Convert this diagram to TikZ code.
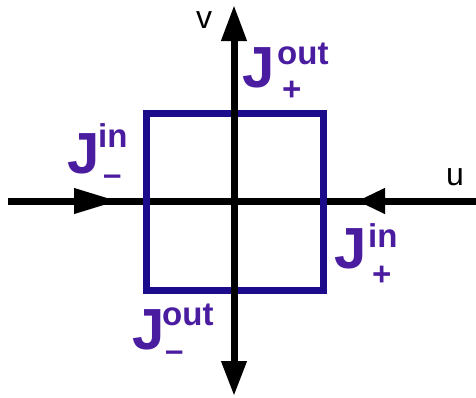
\documentclass[tikz,border=0pt]{standalone}
\usepackage{fontspec}
\setmainfont{Liberation Sans}
\usetikzlibrary{arrows.meta}

\definecolor{boxblue}{RGB}{28,12,140}
\definecolor{fluxpurple}{RGB}{74,28,160}

\tikzset{
  axis/.style={line width=7pt, black},
  box/.style={line width=7pt, draw=boxblue},
  fluxJ/.style={inner sep=0pt, anchor=base west, text=fluxpurple, font=\fontsize{58}{58}\selectfont\bfseries},
  fluxidx/.style={inner sep=0pt, anchor=base west, text=fluxpurple, font=\fontsize{33}{33}\selectfont\bfseries},
  axlabel/.style={inner sep=0pt, anchor=base west, font=\fontsize{32}{32}\selectfont},
}

\begin{document}
\begin{tikzpicture}[x=1pt, y=-1pt]
  \useasboundingbox (0,0) rectangle (476,397);

  % ends of the axes and the tips of the incoming arrows
  \coordinate (uW) at (8,201);
  \coordinate (uE) at (476,201);
  \coordinate (uTipL) at (118,201);
  \coordinate (uTipR) at (357,201);
  \coordinate (vS) at (234,396);
  \coordinate (vN) at (234,5);

  % u axis
  \draw[axis] (uW) -- (uE);
  \draw[axis,-{Triangle[length=44pt,width=24pt]}] (uW) -- (uTipL);
  \draw[axis,-{Triangle[length=28pt,width=24pt]}] (uE) -- (uTipR);

  % the cell
  \draw[box] (146,113) rectangle (323,290);

  % v axis
  \draw[axis,{Triangle[length=35pt,width=24pt]}-{Triangle[length=36pt,width=24pt]}] (vS) -- (vN);

  % axis labels
  \node[axlabel] (vlab) at (196,28) {v};
  \node[axlabel] (ulab) at (446,185) {u};

  % fluxes
  \node[fluxJ] (JinM) at (67,173) {J};
  \node[fluxidx] (JinM-sup) at (98,147) {in};
  \node[fluxidx] (JinM-sub) at (103,185) {–};

  \node[fluxJ] (JoutP) at (242,87) {J};
  \node[fluxidx] (JoutP-sup) at (277,64) {out};
  \node[fluxidx] (JoutP-sub) at (282,100) {+};

  \node[fluxJ] (JinP) at (334,268) {J};
  \node[fluxidx] (JinP-sup) at (368,247) {in};
  \node[fluxidx] (JinP-sub) at (372,285) {+};

  \node[fluxJ] (JoutM) at (132,349) {J};
  \node[fluxidx] (JoutM-sup) at (162,325) {out};
  \node[fluxidx] (JoutM-sub) at (165,361) {–};
\end{tikzpicture}
\end{document}
